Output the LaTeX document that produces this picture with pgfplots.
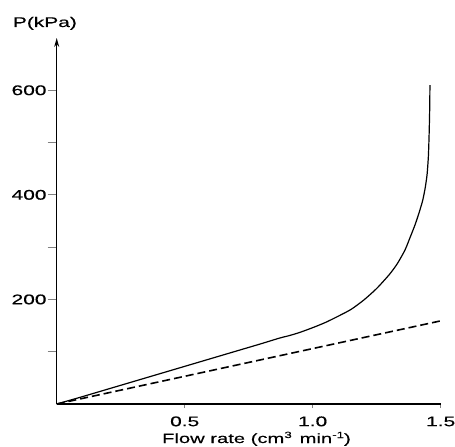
\documentclass[border=0pt]{standalone}
\usepackage{fontspec}
\setmainfont{Liberation Sans}[FakeStretch=1.5, FakeBold=0.4]
\usepackage{pgfplots}
\pgfplotsset{compat=1.18}
\usetikzlibrary{arrows.meta}
\begin{document}
\begin{tikzpicture}
\useasboundingbox (0bp,0bp) rectangle (455bp,447bp);
\begin{axis}[
  at={(56.7bp,43bp)}, anchor=south west,
  scale only axis, width=384bp, height=366bp,
  xmin=0, xmax=1.5, ymin=0, ymax=700,
  axis x line=bottom, axis y line=left,
  x axis line style={-},
  y axis line style={-{Stealth[length=9bp,width=5bp]}},
  axis line style={line width=1.1bp},
  xtick={0.5,1.0,1.5}, xticklabels={0.5,1.0,1.5},
  ytick={100,200,300,400,500,600}, yticklabels={,200,,400,,600},
  tick align=outside,
  major tick length=9bp,
  xtick style={line width=0.8bp, /pgfplots/major tick length=4bp},
  ytick style={line width=1bp},
  tick label style={font=\fontsize{14}{16}\selectfont, inner sep=0pt},
  xticklabel style={anchor=north, yshift=-3bp, text height=10bp, text depth=0pt},
  yticklabel style={anchor=east, xshift=-1bp},
  /pgf/number format/assume math mode=true,
  clip=false,
]
\addplot[black, line width=1.2bp, smooth, tension=0.4] coordinates {
(0,0) (0.1,14) (0.2,28.5) (0.3,43) (0.4,57.5) (0.5,72) (0.6,86.5) (0.7,101)
(0.8,115.5) (0.87,126) (0.91,131) (0.95,137) (1.0,146) (1.05,156) (1.1,168)
(1.15,181) (1.2,199) (1.25,221) (1.3,248) (1.33,268) (1.36,294) (1.38,318)
(1.4,343) (1.415,365) (1.43,390) (1.44,415) (1.447,440) (1.452,475)
(1.455,520) (1.457,565) (1.458,610)
};
\addplot[black, line width=1.6bp, dash pattern=on 8bp off 4bp] coordinates {
(0,0) (1.5,159)
};
\end{axis}
\node[anchor=base west, inner sep=0pt, font=\fontsize{14}{16}\selectfont] at (12.7bp,420bp) {P(kPa)};
\node[anchor=base, inner sep=0pt, text height=10bp, text depth=3bp, font=\fontsize{13.5}{16}\selectfont] at (256.5bp,4bp) {Flow rate (cm{\fontsize{9}{9}\selectfont\raisebox{5bp}{3}}\, min{\fontsize{9}{9}\selectfont\raisebox{5bp}{-1}})};
\end{tikzpicture}
\end{document}
